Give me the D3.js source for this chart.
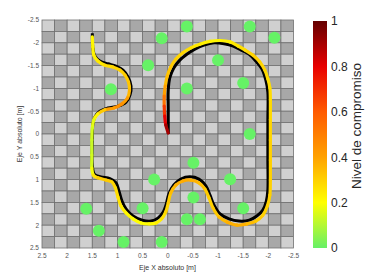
<!DOCTYPE html>
<html>
<head>
<meta charset="utf-8">
<script src="https://cdn.jsdelivr.net/npm/d3@7"></script>
<style>
  body { margin: 0; background: #fff; }
  svg { display: block; font-family: "Liberation Sans", Arial, sans-serif; }
</style>
</head>
<body>
<svg id="chart" width="371" height="279"></svg>
<script>
// axis ticks (metres) and colorbar ticks
const xTicks = [2.5, 2, 1.5, 1, 0.5, 0, -0.5, -1, -1.5, -2, -2.5]
const yTicks = [-2.5, -2, -1.5, -1, -0.5, 0, 0.5, 1, 1.5, 2, 2.5]
const cTicks = [0, 0.2, 0.4, 0.6, 0.8, 1]

// obstacle centres [x, y] in metres
const obstacles = [
  [0.12, -2.1], [-0.38, -2.36], [-1.63, -2.36], [-2.12, -2.11],
  [0.39, -1.51], [-1.0, -1.62], [1.13, -0.98], [-0.38, -1.0],
  [-1.5, -1.12], [-1.63, 0.0], [-0.51, 0.63], [-1.24, 0.99],
  [0.27, 1.0], [-0.51, 1.39], [-1.5, 1.63], [-0.38, 1.87],
  [-0.64, 1.87], [1.62, 1.64], [0.5, 1.63], [1.37, 2.12],
  [0.88, 2.37], [0.12, 2.37]
]

// reference trajectory [x, y]
const refPath = [
  [1.50, -2.21], [1.49, -1.91], [1.45, -1.71], [1.35, -1.60], [1.19, -1.54],
  [1.03, -1.49], [0.89, -1.40], [0.79, -1.25], [0.73, -1.05], [0.75, -0.86],
  [0.83, -0.70], [0.99, -0.61], [1.19, -0.57], [1.35, -0.50], [1.45, -0.37],
  [1.49, -0.20], [1.50, 0.13], [1.50, 0.68], [1.46, 0.88], [1.33, 0.94],
  [1.15, 0.98], [1.03, 1.07], [0.97, 1.25], [0.91, 1.47], [0.83, 1.64],
  [0.69, 1.80], [0.51, 1.89], [0.33, 1.91], [0.19, 1.84], [0.09, 1.71],
  [0.03, 1.54], [-0.02, 1.32], [-0.12, 1.12], [-0.26, 0.99], [-0.44, 0.94],
  [-0.62, 0.99], [-0.76, 1.14], [-0.84, 1.34], [-0.92, 1.56], [-1.04, 1.75],
  [-1.22, 1.86], [-1.42, 1.91], [-1.62, 1.89], [-1.77, 1.80], [-1.89, 1.67],
  [-1.96, 1.47], [-1.99, 1.23], [-1.99, 0.57], [-1.99, -0.31], [-1.99, -0.92],
  [-1.95, -1.18], [-1.87, -1.43], [-1.75, -1.60], [-1.62, -1.75], [-1.46, -1.84],
  [-1.30, -1.93], [-1.12, -1.98], [-0.92, -2.00], [-0.72, -1.95], [-0.54, -1.86],
  [-0.38, -1.75], [-0.24, -1.62], [-0.12, -1.45], [-0.04, -1.23], [-0.01, -0.96],
  [-0.01, -0.53], [-0.01, 0.00]
]

// executed trajectory [x, y, nivel de compromiso]
const robotPath = [
  [1.50, -2.13, 0.22], [1.49, -1.91, 0.22], [1.47, -1.73, 0.22], [1.39, -1.60, 0.24],
  [1.25, -1.51, 0.26], [1.09, -1.47, 0.28], [0.95, -1.40, 0.30], [0.85, -1.29, 0.30],
  [0.78, -1.14, 0.32], [0.76, -0.96, 0.33], [0.80, -0.79, 0.38], [0.91, -0.66, 0.45],
  [1.07, -0.57, 0.45], [1.25, -0.53, 0.38], [1.39, -0.44, 0.25], [1.47, -0.31, 0.18],
  [1.50, -0.13, 0.15], [1.51, 0.13, 0.13], [1.51, 0.46, 0.13], [1.51, 0.75, 0.15],
  [1.48, 0.90, 0.22], [1.39, 0.96, 0.30], [1.23, 1.01, 0.32], [1.11, 1.05, 0.30],
  [1.04, 1.18, 0.28], [0.99, 1.38, 0.27], [0.93, 1.58, 0.25], [0.83, 1.73, 0.22],
  [0.69, 1.86, 0.20], [0.53, 1.95, 0.20], [0.37, 1.97, 0.20], [0.23, 1.95, 0.22],
  [0.12, 1.86, 0.25], [0.04, 1.71, 0.28], [-0.01, 1.51, 0.30], [-0.06, 1.29, 0.33],
  [-0.16, 1.12, 0.36], [-0.30, 1.03, 0.38], [-0.46, 1.01, 0.38], [-0.62, 1.07, 0.35],
  [-0.74, 1.21, 0.33], [-0.82, 1.40, 0.30], [-0.90, 1.62, 0.30], [-1.02, 1.82, 0.33],
  [-1.18, 1.93, 0.36], [-1.38, 2.00, 0.38], [-1.58, 1.97, 0.36], [-1.75, 1.91, 0.33],
  [-1.89, 1.78, 0.30], [-1.98, 1.58, 0.30], [-2.03, 1.34, 0.30], [-2.04, 1.01, 0.30],
  [-2.04, 0.57, 0.30], [-2.04, 0.13, 0.30], [-2.04, -0.31, 0.28], [-2.04, -0.75, 0.28],
  [-2.03, -1.01, 0.27], [-1.99, -1.21, 0.27], [-1.93, -1.40, 0.28], [-1.83, -1.58, 0.30],
  [-1.69, -1.73, 0.30], [-1.54, -1.84, 0.28], [-1.40, -1.93, 0.26], [-1.24, -2.02, 0.24],
  [-1.04, -2.05, 0.22], [-0.84, -2.03, 0.22], [-0.64, -1.97, 0.24], [-0.46, -1.89, 0.26],
  [-0.30, -1.78, 0.28], [-0.16, -1.64, 0.30], [-0.06, -1.47, 0.32], [0.01, -1.27, 0.33],
  [0.05, -1.05, 0.36], [0.07, -0.83, 0.45], [0.07, -0.61, 0.60], [0.06, -0.39, 0.75],
  [0.04, -0.20, 0.85], [-0.01, -0.02, 0.95]
]

const svg = d3.select('#chart')

const x = d3.scaleLinear().domain([2.5, -2.5]).range([42, 293.5])
const y = d3.scaleLinear().domain([-2.5, 2.5]).range([20, 248])
const cy = d3.scaleLinear().domain([0, 1]).range([248, 21])

const color = d3.scaleLinear()
  .domain([0, 0.2, 0.4, 0.6, 0.8, 1])
  .range(['#66f066', '#ffff00', '#ffa200', '#ff5a00', '#e80000', '#640000'])
  .interpolate(d3.interpolateRgb)

// checkerboard floor, 0.25 m cells
const cell = 0.25
const cells = d3.range(20 * 20).map(i => ({ i: i % 20, j: ~~(i / 20) }))
svg.append('g').selectAll('rect')
    .data(cells)
  .enter().append('rect')
    .attr('x', d => x(2.5 - d.i * cell))
    .attr('y', d => y(-2.5 + d.j * cell))
    .attr('width', d => x(2.5 - (d.i + 1) * cell) - x(2.5 - d.i * cell))
    .attr('height', d => y(-2.5 + (d.j + 1) * cell) - y(-2.5 + d.j * cell))
    .attr('fill', d => (d.i + d.j) % 2 ? '#a8a8a8' : '#d0d0d0')
    .attr('stroke', '#707070')
    .attr('stroke-width', 0.8)

// obstacles
svg.append('g').selectAll('circle')
    .data(obstacles)
  .enter().append('circle')
    .attr('cx', d => x(d[0]))
    .attr('cy', d => y(d[1]))
    .attr('r', 6)
    .attr('fill', '#66f266')

// reference path
const line = d3.line()
  .x(d => x(d[0])).y(d => y(d[1]))
  .curve(d3.curveCatmullRom.alpha(0.5))

svg.append('path')
  .datum(refPath)
  .attr('d', line)
  .attr('fill', 'none')
  .attr('stroke', '#000')
  .attr('stroke-width', 3)

// executed path, one catmull-rom piece per pair of points so each gets its own colour
const pts = robotPath.map(d => [x(d[0]), y(d[1]), d[2]])
const segs = d3.range(pts.length - 1).map(i => {
  const p0 = pts[Math.max(i - 1, 0)], p1 = pts[i],
        p2 = pts[i + 1], p3 = pts[Math.min(i + 2, pts.length - 1)]
  const p = d3.path()
  p.moveTo(p1[0], p1[1])
  p.bezierCurveTo(p1[0] + (p2[0] - p0[0]) / 6, p1[1] + (p2[1] - p0[1]) / 6,
                  p2[0] - (p3[0] - p1[0]) / 6, p2[1] - (p3[1] - p1[1]) / 6,
                  p2[0], p2[1])
  return { d: p.toString(), c: (p1[2] + p2[2]) / 2 }
})

svg.append('g').selectAll('path')
    .data(segs)
  .enter().append('path')
    .attr('d', d => d.d)
    .attr('fill', 'none')
    .attr('stroke', d => color(d.c))
    .attr('stroke-width', 3.2)
    .attr('stroke-linecap', 'round')

// axis tick labels
svg.append('g').selectAll('text')
    .data(xTicks)
  .enter().append('text')
    .attr('x', d => x(d))
    .attr('y', 258)
    .attr('text-anchor', 'middle')
    .attr('font-size', 6.5)
    .attr('fill', '#555')
    .text(d => d)

svg.append('g').selectAll('text')
    .data(yTicks)
  .enter().append('text')
    .attr('x', 39)
    .attr('y', d => y(d) + 2.3)
    .attr('text-anchor', 'end')
    .attr('font-size', 6.5)
    .attr('fill', '#555')
    .text(d => d)

svg.append('text')
  .attr('x', 167.5).attr('y', 270)
  .attr('text-anchor', 'middle')
  .attr('font-size', 7)
  .attr('fill', '#333')
  .text('Eje X absoluto [m]')

svg.append('text')
  .attr('transform', 'translate(22,134) rotate(-90)')
  .attr('text-anchor', 'middle')
  .attr('font-size', 7)
  .attr('fill', '#333')
  .text('Eje Y absoluto [m]')

// colorbar
const grad = svg.append('defs').append('linearGradient')
  .attr('id', 'cbar').attr('x1', 0).attr('y1', 1).attr('x2', 0).attr('y2', 0)
grad.selectAll('stop')
    .data(d3.range(0, 1.0001, 0.05))
  .enter().append('stop')
    .attr('offset', d => d)
    .attr('stop-color', d => color(d))

svg.append('rect')
  .attr('x', 313).attr('y', cy(1))
  .attr('width', 14).attr('height', cy(0) - cy(1))
  .attr('fill', 'url(#cbar)')

svg.append('g').selectAll('text')
    .data(cTicks)
  .enter().append('text')
    .attr('x', 331)
    .attr('y', d => cy(d) + 4.3)
    .attr('font-size', 12)
    .attr('fill', '#262626')
    .text(d => d)

svg.append('text')
  .attr('transform', 'translate(361,126) rotate(-90)')
  .attr('text-anchor', 'middle')
  .attr('font-size', 13.5)
  .attr('fill', '#262626')
  .text('Nivel de compromiso')
</script>
</body>
</html>
